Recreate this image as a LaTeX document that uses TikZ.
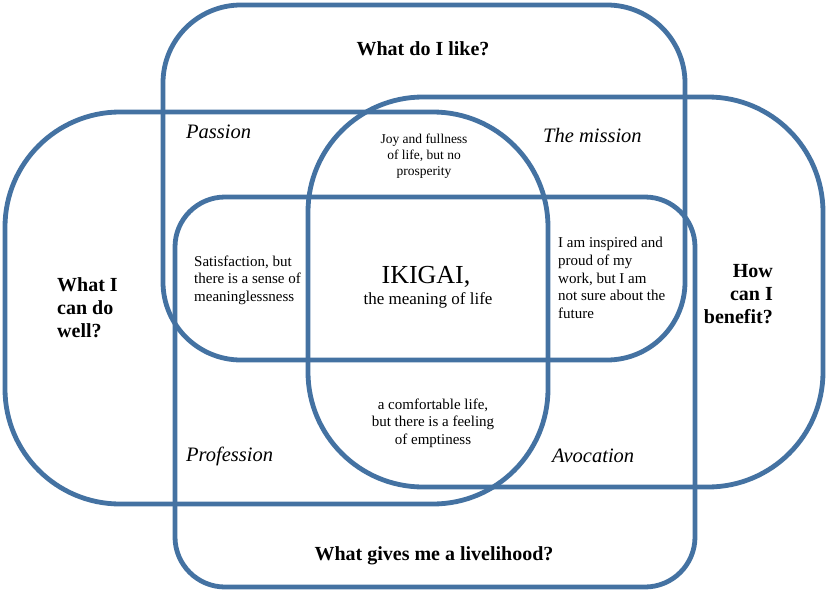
\documentclass[tikz,border=0pt]{standalone}
\usepackage{fontspec}
\setmainfont{Liberation Serif}
\definecolor{ikiblue}{RGB}{68,114,162}
\begin{document}
\begin{tikzpicture}[x=1pt,y=-1pt,
  ring/.style={draw=ikiblue, line width=4.8pt},
  big/.style={font=\fontsize{20}{23}\selectfont\bfseries, inner sep=0pt},
  zone/.style={font=\fontsize{20.5}{24}\selectfont\itshape, inner sep=0pt},
  note/.style={font=\fontsize{15}{17.6}\selectfont, inner sep=0pt},
  small/.style={font=\fontsize{13.5}{16}\selectfont, inner sep=0pt}]
\useasboundingbox[fill=white] (0,0) rectangle (828,592);
% four rounded rectangles
\draw[ring, rounded corners=78pt]  (163,5)   rectangle (685,360);
\draw[ring, rounded corners=115pt] (5,112)   rectangle (548,504);
\draw[ring, rounded corners=115pt] (308,97)  rectangle (823,487);
\draw[ring, rounded corners=50pt]  (175,197) rectangle (695,587);
% main questions
\node[big, anchor=base] (like) at (423,55) {What do I like?};
\node[big, anchor=west, align=left] (well) at (57,308) {What I\\can do\\well?};
\node[big, anchor=east, align=right] (benefit) at (773,294) {How\\can I\\benefit?};
\node[big, anchor=base] (livelihood) at (434,560) {What gives me a livelihood?};
% zone names
\node[zone, anchor=base west] (passion) at (186,138) {Passion};
\node[zone, anchor=base west] (mission) at (543,142) {The mission};
\node[zone, anchor=base west] (profession) at (186,461) {Profession};
\node[zone, anchor=base west] (avocation) at (552,462) {Avocation};
% descriptions
\node[small, align=center] (joy) at (424,156) {Joy and fullness\\of life, but no\\prosperity};
\node[note, anchor=west, align=left] (satisf) at (194,280) {Satisfaction, but\\there is a sense of\\meaninglessness};
\node[note, anchor=west, align=left] (inspired) at (558,278) {I am inspired and\\proud of my\\work, but I am\\not sure about the\\future};
\node[note, align=center] (comfort) at (433,423) {a comfortable life,\\but there is a feeling\\of emptiness};
\node[inner sep=0pt, anchor=base] (ikigai) at (426,283) {\fontsize{26}{26}\selectfont IKIGAI,};
\node[inner sep=0pt, anchor=base] (meaning) at (428,304) {\fontsize{17}{20}\selectfont the meaning of life};
\end{tikzpicture}
\end{document}
